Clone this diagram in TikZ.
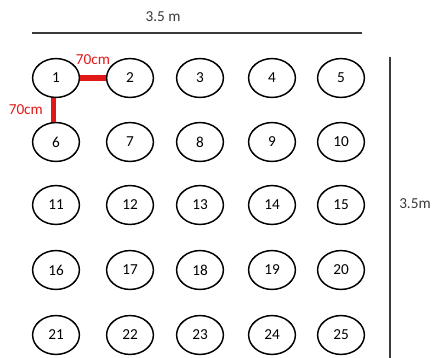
\documentclass[tikz,border=0pt]{standalone}
\usepackage{fontspec}
\setmainfont{Carlito}
\usetikzlibrary{shapes.geometric}
\definecolor{dimred}{HTML}{E01818}
\definecolor{labgray}{HTML}{3A3A3A}
\tikzset{
  plant/.style={ellipse, draw, line width=1.1pt, minimum width=1.24cm, minimum height=1.03cm, inner sep=0pt, font=\fontsize{11.5}{13}\selectfont},
  gap/.style={draw=dimred, line width=3.8pt},
  gaplab/.style={text=dimred, font=\fontsize{11.5}{13}\selectfont, inner sep=1pt},
  dimlab/.style={text=labgray, font=\fontsize{11.5}{13}\selectfont},
}
\begin{document}
\begin{tikzpicture}[x=0.0265cm, y=-0.0265cm]
  \useasboundingbox (0,0) rectangle (434,358);
  % field of 5 x 5 plants
  \foreach \y [count=\r] in {78,142,205,270,335}
    \foreach \x [count=\c] in {56,130,200,272,341}
      {\pgfmathtruncatemacro{\n}{(\r-1)*5+\c}
      \node[plant] (p\n) at (\x,\y) {\n};}
  % spacing between plants
  \draw[gap] (p1.east) -- node[gaplab, above=7pt]{70cm} (p2.west);
  \draw[gap] ([xshift=-2pt]p1.south) -- node[gaplab, left=5pt]{70cm} ([xshift=-2pt]p6.north);
  % field size
  \coordinate (wl) at (32,33);
  \coordinate (wr) at (362,33);
  \coordinate (ht) at (390,57);
  \coordinate (hb) at (390,358);
  \draw[line width=1.2pt, labgray] (wl) -- (wr);
  \draw[line width=1.4pt, labgray] (ht) -- (hb);
  \node[dimlab] (wlab) at (163,17) {3.5 m};
  \node[dimlab] (hlab) at (415,204) {3.5m};
\end{tikzpicture}
\end{document}
